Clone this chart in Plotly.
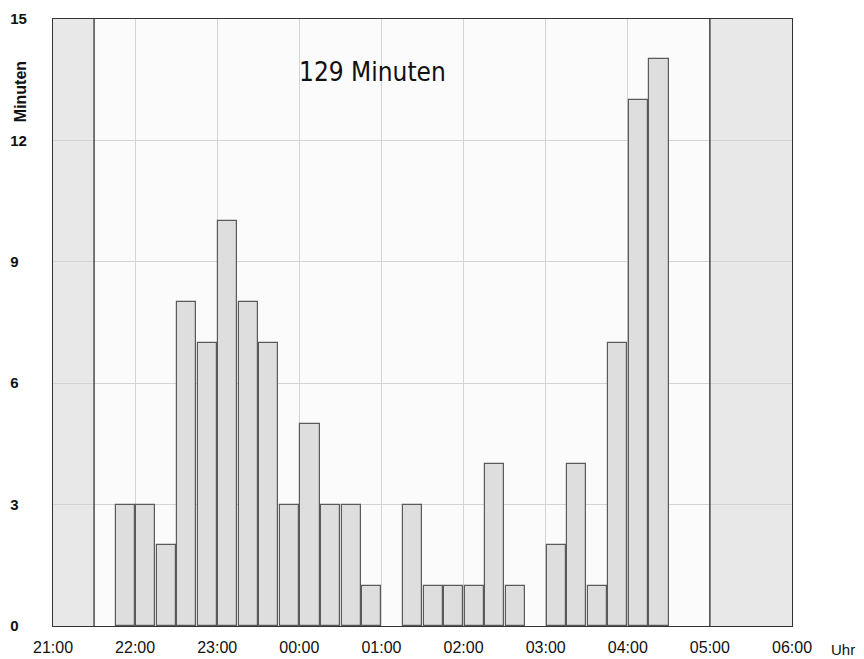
import plotly.graph_objects as go

# Data
bar_starts = ["21:45", "22:00", "22:15", "22:30", "22:45", "23:00", "23:15", "23:30", "23:45",
              "00:00", "00:15", "00:30", "00:45", "01:00", "01:15", "01:30", "01:45",
              "02:00", "02:15", "02:30", "02:45", "03:00", "03:15", "03:30", "03:45",
              "04:00", "04:15"]
minutes = [3, 3, 2, 8, 7, 10, 8, 7, 3,
           5, 3, 3, 1, 0, 3, 1, 1,
           1, 4, 1, 0, 2, 4, 1, 7,
           13, 14]
tick_labels = ["21:00", "22:00", "23:00", "00:00", "01:00", "02:00", "03:00", "04:00", "05:00", "06:00"]
y_ticks = [0, 3, 6, 9, 12, 15]
total_label = "129 Minuten"
sleep_start = "21:30"
sleep_end = "05:00"


def to_hours(s):
    h, m = map(int, s.split(":"))
    v = h + m / 60.0
    if v < 12:
        v += 24
    return v


xs = [to_hours(s) + 0.13 for s in bar_starts]
tick_vals = [to_hours(s) for s in tick_labels]
x0, x1 = tick_vals[0], tick_vals[-1]
s0, s1 = to_hours(sleep_start), to_hours(sleep_end)
line_w = [1.2 if v > 0 else 0 for v in minutes]
# labels are left-aligned in the reference: pad one-digit labels with a figure space
y_text = [str(v) + ("\u2007" if v < 10 else "") for v in y_ticks]

fig = go.Figure()
fig.add_trace(go.Bar(
    x=xs, y=minutes, width=0.232,
    marker=dict(color="#dedede", line=dict(color="#5a5a5a", width=line_w)),
    showlegend=False, hoverinfo="x+y",
))

shapes = [
    dict(type="rect", xref="x", yref="y", x0=x0, x1=s0, y0=0, y1=15,
         fillcolor="#e8e8e8", line_width=0, layer="below"),
    dict(type="rect", xref="x", yref="y", x0=s1, x1=x1, y0=0, y1=15,
         fillcolor="#e8e8e8", line_width=0, layer="below"),
    dict(type="line", xref="x", yref="y", x0=s0, x1=s0, y0=0, y1=15,
         line=dict(color="#222222", width=1.2)),
    dict(type="line", xref="x", yref="y", x0=s1, x1=s1, y0=0, y1=15,
         line=dict(color="#222222", width=1.2)),
]

fig.update_layout(
    width=856, height=651,
    margin=dict(l=45, r=72, t=11, b=33),
    paper_bgcolor="white",
    plot_bgcolor="#fbfbfb",
    font=dict(family="Liberation Sans, Arial, sans-serif", size=14, color="#111"),
    bargap=0,
    shapes=shapes,
    xaxis=dict(range=[x0, x1], tickvals=tick_vals, ticktext=tick_labels,
               showgrid=True, gridcolor="#d4d4d4", gridwidth=1,
               showline=True, linecolor="#333", linewidth=1.2, mirror=True,
               ticks="", zeroline=False, ticklabelstandoff=7, automargin=False,
               tickfont=dict(size=16)),
    yaxis=dict(range=[0, 15], tickvals=y_ticks, ticktext=y_text,
               showgrid=True, gridcolor="#d4d4d4", gridwidth=1,
               showline=True, linecolor="#333", linewidth=1.2, mirror=True,
               ticks="", zeroline=False, ticklabelstandoff=22, automargin=False,
               tickfont=dict(size=15, family="Liberation Sans, Arial, sans-serif", weight="bold")),
    annotations=[
        dict(text=total_label, x=0.432, y=0.913, xref="paper", yref="paper",
             xanchor="center", yanchor="middle", showarrow=False,
             font=dict(size=26, family="Liberation Sans Narrow, DejaVu Sans Condensed, Arial Narrow, sans-serif",
                       color="#111")),
        dict(text="Minuten", x=-0.0447, y=0.881, xref="paper", yref="paper", textangle=-90,
             xanchor="center", yanchor="middle", showarrow=False,
             font=dict(size=16, family="Liberation Sans, Arial, sans-serif", weight="bold")),
        dict(text="Uhr", x=1.0685, y=-0.038, xref="paper", yref="paper",
             xanchor="center", yanchor="middle", showarrow=False, font=dict(size=15)),
    ],
)

fig.write_html("out.html")
